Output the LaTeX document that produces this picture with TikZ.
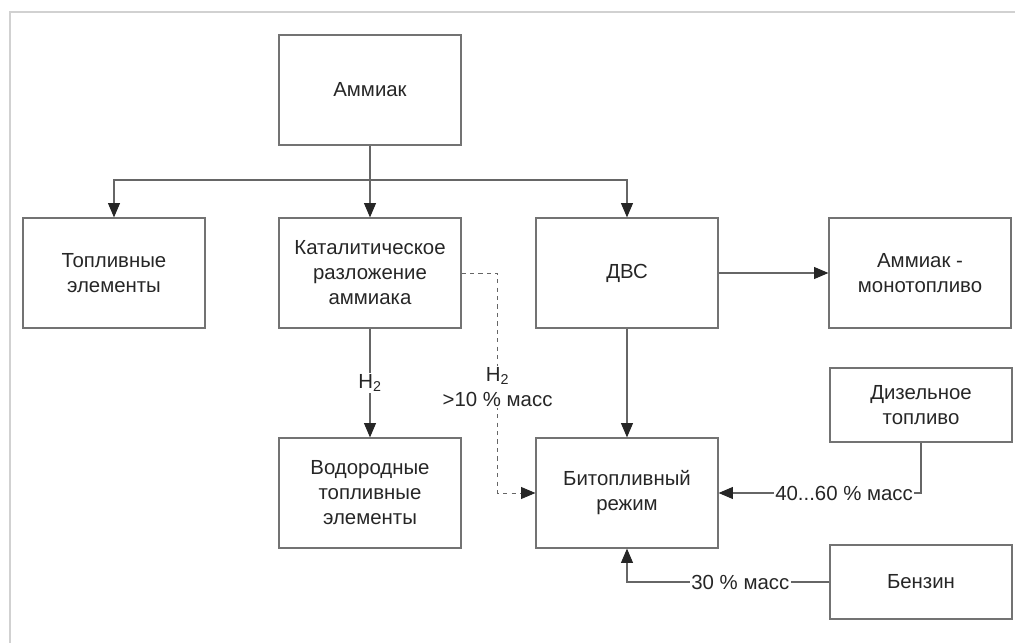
\documentclass[tikz,border=0pt]{standalone}
\usepackage{fontspec}
\setmainfont{Liberation Sans}
\usetikzlibrary{arrows.meta}
\begin{document}
\begin{tikzpicture}[x=0.025cm,y=-0.025cm,
  blok/.style={draw=black!55,line width=0.8pt,text=black!85,align=center,
    minimum width=4.55cm,minimum height=2.75cm,inner sep=2pt,
    font=\fontsize{14.5}{17.8}\selectfont},
  blokn/.style={blok,minimum height=1.85cm},
  svz/.style={draw=black!60,line width=0.8pt,-{Triangle[length=0.36cm,width=0.3cm,color=black!85]}},
  pdp/.style={fill=white,inner sep=1pt,text=black!85,align=center,
    font=\fontsize{14.5}{17.8}\selectfont}]
\useasboundingbox (0,0) rectangle (1015,643);
%\draw[step=50,very thin,color=gray] (0,0) grid (1015,643);
\draw[black!18,line width=1.5pt] (10,643) -- (10,12) -- (1015,12);
% bloki
\node[blok] (amm) at (370,90) {Аммиак};
\node[blok] (fc) at (114,273) {Топливные\\элементы};
\node[blok] (cat) at (370,273) {Каталитическое\\разложение\\аммиака};
\node[blok] (ice) at (627,273) {ДВС};
\node[blok] (mono) at (920,273) {Аммиак -\\монотопливо};
\node[blok] (h2fc) at (370,493) {Водородные\\топливные\\элементы};
\node[blok] (bif) at (627,493) {Битопливный\\режим};
\node[blokn] (dies) at (921,405) {Дизельное\\топливо};
\node[blokn] (benz) at (921,582) {Бензин};
\coordinate (bus) at (370,180);
% svyazi
\draw[svz] (amm) -- (cat);
\draw[svz] (bus) -| (fc.north);
\draw[svz] (bus) -| (ice.north);
\draw[svz] (cat) -- node[pdp] {H\textsubscript{2}} (h2fc);
\draw[svz,dashed,line width=0.6pt] (cat.east) -- ++(36,0)
  |- node[pdp,pos=0.26] {H\textsubscript{2}\\>10 \% масс} (bif.west);
\draw[svz] (ice) -- (mono);
\draw[svz] (ice) -- (bif);
\draw[svz] (dies.south) |- node[pdp,pos=0.69] {40...60 \% масс} (bif.east);
\draw[svz] (benz.west) -| node[pdp,pos=0.22] {30 \% масс} (bif.south);
\end{tikzpicture}
\end{document}
